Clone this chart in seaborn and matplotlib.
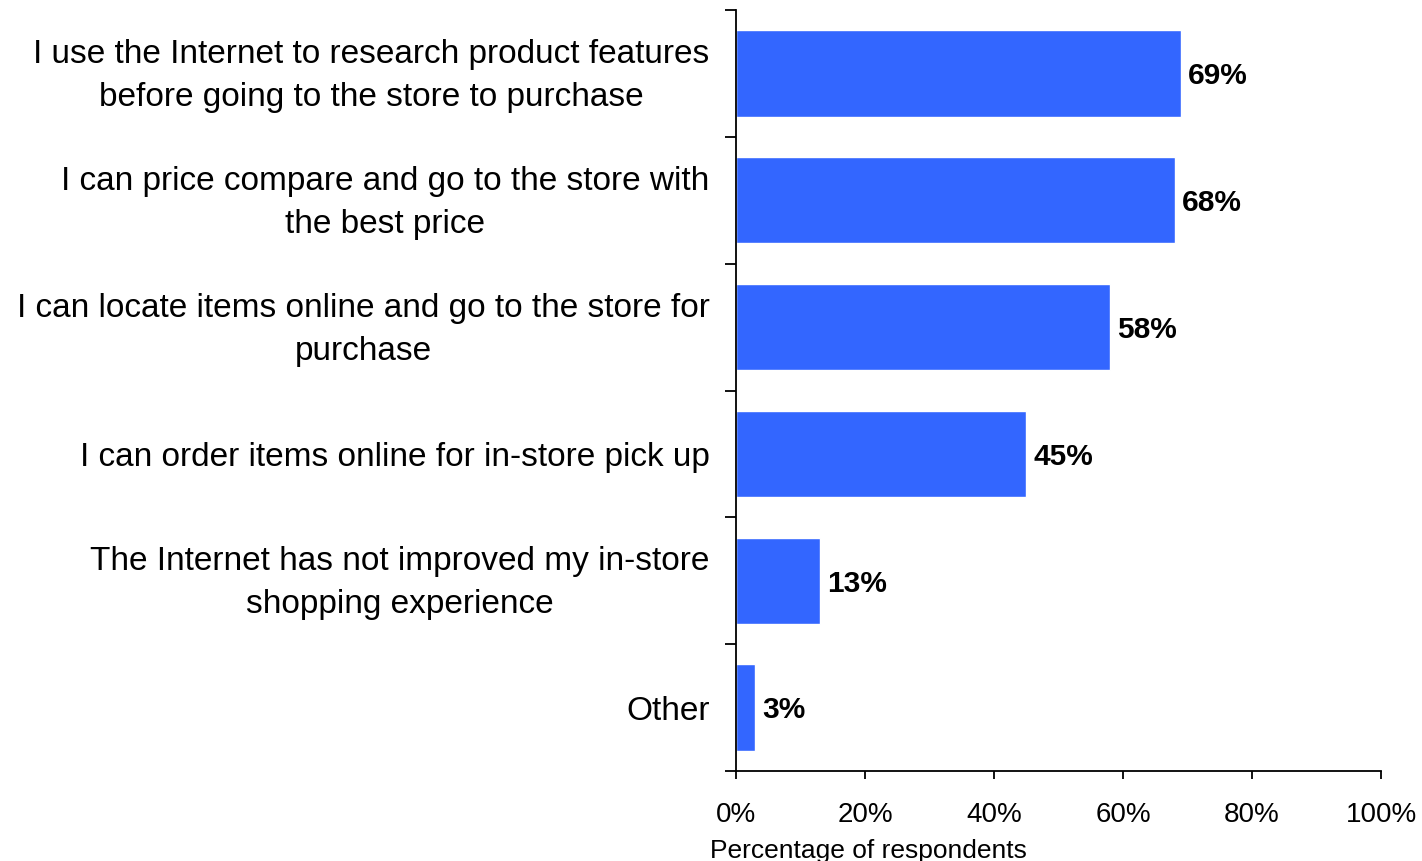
import matplotlib
matplotlib.use("Agg")
import matplotlib.pyplot as plt
import matplotlib.transforms as mtransforms
import seaborn as sns
import numpy as np
import pandas as pd
from matplotlib.ticker import FixedLocator, PercentFormatter

categories = [
    "I use the Internet to research product features\nbefore going to the store to purchase",
    "I can price compare and go to the store with\nthe best price",
    "I can locate items online and go to the store for\npurchase",
    "I can order items online for in-store pick up",
    "The Internet has not improved my in-store\nshopping experience",
    "Other",
]
values = [69, 68, 58, 45, 13, 3]
x_ticks = [0, 20, 40, 60, 80, 100]
x_label = "Percentage of respondents"
bar_color = "#3366FF"

sns.set_theme(style="white")
plt.rcParams['font.family'] = ['Liberation Sans', 'DejaVu Sans']

df = pd.DataFrame({"category": categories, "value": values})

fig = plt.figure(figsize=(14.22, 8.61), dpi=100)
ax = fig.add_axes([736/1422, 1-771/861, (1381-736)/1422, (771-10)/861])

sns.barplot(data=df, x="value", y="category", orient="h", color=bar_color,
            saturation=1, width=0.68, ax=ax)

ax.set_xlim(0, 100)
ax.set_ylim(5.5, -0.5)

for spine in ["top", "right"]:
    ax.spines[spine].set_visible(False)
for spine in ["left", "bottom"]:
    ax.spines[spine].set_color("black")
    ax.spines[spine].set_linewidth(1.3)

ax.xaxis.set_major_locator(FixedLocator(x_ticks))
ax.xaxis.set_major_formatter(PercentFormatter(decimals=0))
ax.tick_params(axis="x", which="major", direction="out", length=6, width=1.3,
               color="black", labelsize=20, pad=16, bottom=True, labelcolor="black")

# y: labels at centers, tick marks at boundaries
ax.yaxis.set_minor_locator(FixedLocator(np.arange(-0.5, len(categories), 1.0)))
ax.tick_params(axis="y", which="major", length=0, labelsize=24, pad=19, labelcolor="black")
ax.tick_params(axis="y", which="minor", direction="out", length=8, width=1.3,
               color="black", left=True)
shift_up = mtransforms.ScaledTranslation(0, 5 / 72, fig.dpi_scale_trans)
for lbl in ax.get_yticklabels():
    lbl.set_multialignment("center")
    lbl.set_linespacing(1.5)
    if "\n" in lbl.get_text():
        lbl.set_transform(lbl.get_transform() + shift_up)

ax.set_ylabel("")
ax.set_xlabel(x_label, fontsize=19, color="black")
ax.xaxis.set_label_coords(0.206, -0.09)
ax.xaxis.label.set_va("top")

for p, v in zip(ax.patches, values):
    y = p.get_y() + p.get_height() / 2
    ax.annotate(f"{v}%", xy=(p.get_width(), y), xytext=(5, -2),
                textcoords="offset points", va="center", ha="left",
                fontsize=21.5, fontweight="bold", color="black")

fig.savefig("out.png", dpi=100, facecolor="white")
